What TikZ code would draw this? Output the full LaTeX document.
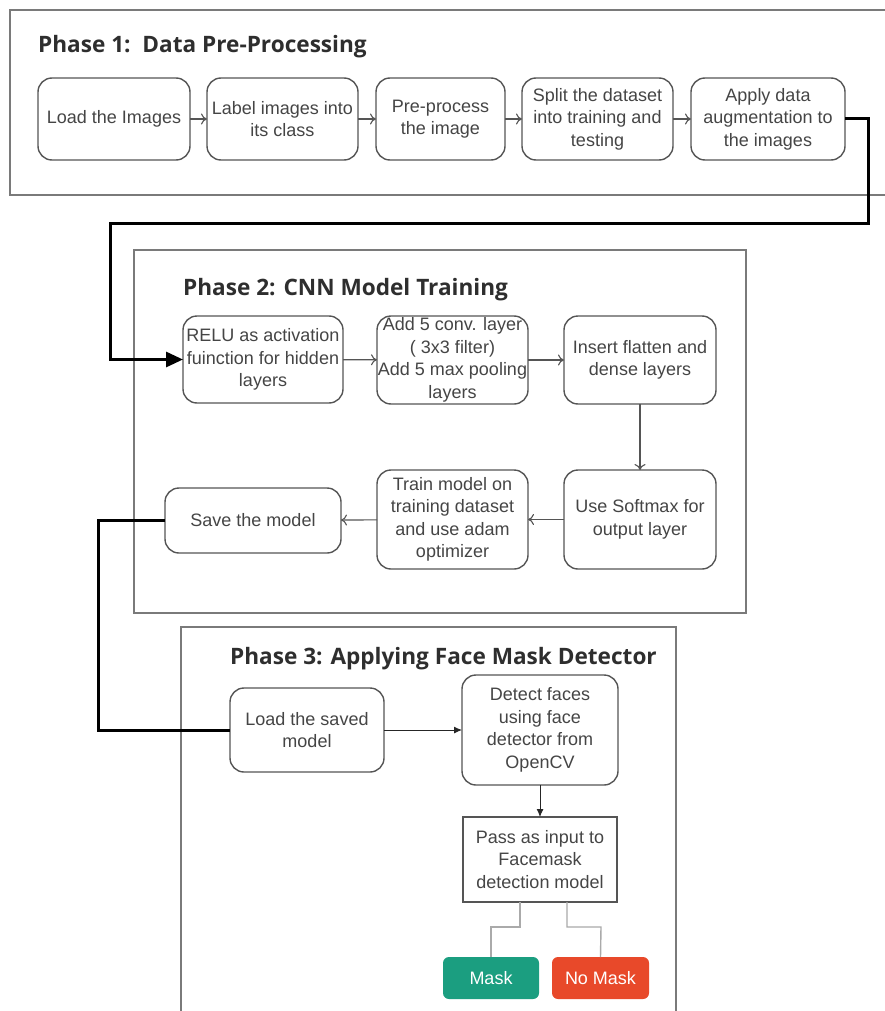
\documentclass[tikz,border=0pt]{standalone}
\usepackage{fontspec}
\setmainfont{Liberation Sans}
\newfontfamily\titlefont{Open Sans}
\usetikzlibrary{arrows.meta}
\definecolor{boxgray}{HTML}{555555}
\definecolor{txtgray}{HTML}{454545}
\definecolor{framegray}{HTML}{7A7A7A}
\definecolor{titlegray}{HTML}{2E2E2E}
\definecolor{maskgreen}{HTML}{1B9E80}
\definecolor{nomaskred}{HTML}{E8492A}
\definecolor{linkgray}{HTML}{AAAAAA}
\begin{document}
\begin{tikzpicture}[x=1pt,y=-1pt,
  box/.style={draw=boxgray, line width=1.4pt, rounded corners=14pt, align=center,
    text=txtgray, font=\fontsize{18}{22.5}\selectfont, inner sep=0pt, outer sep=0pt},
  sqbox/.style={box, rounded corners=0pt},
  frame/.style={draw=framegray, line width=1.6pt},
  ptitle/.style={anchor=base west, text=titlegray, font=\titlefont\bfseries\fontsize{22.6}{26}\selectfont, inner sep=0pt},
  openarrow/.style={draw=boxgray, line width=1.1pt, -{To[length=6pt,width=11pt]}},
  fillarrow/.style={draw=black!85, line width=0.9pt, -{Latex[length=8pt,width=7pt]}},
  thick link/.style={draw=black, line width=3pt},
  branch/.style={draw=linkgray, line width=1.4pt},
  result/.style={rounded corners=6pt, inner sep=0pt, outer sep=0pt, text=white,
    font=\fontsize{18}{20}\selectfont, minimum width=96pt, minimum height=42pt}
]
\useasboundingbox (0,0) rectangle (885,1011);
\fill[white] (0,0) rectangle (885,1011);

% frames
\draw[frame] (895,10) -- (10,10) -- (10,195) -- (895,195);
\draw[frame] (134,250) rectangle (746,613);
\draw[frame] (181,1020) -- (181,627) -- (676,627) -- (676,1020);

% titles
\node[ptitle] (t1) at (38,53) {Phase 1:\ \ Data Pre-Processing};
\node[ptitle] (t2) at (183,295) {Phase 2: CNN Model Training};
\node[ptitle] (t3) at (230,664) {Phase 3: Applying Face Mask Detector};

% phase 1
\node[box, minimum width=152pt, minimum height=82pt] (b1) at (114,119) {Load the Images};
\node[box, minimum width=151pt, minimum height=82pt] (b2) at (282.5,119) {Label images into\\its class};
\node[box, minimum width=129pt, minimum height=82pt] (b3) at (440.5,119) {Pre-process\\the image};
\node[box, minimum width=151pt, minimum height=82pt] (b4) at (597.5,119) {Split the dataset\\into training and\\testing};
\node[box, minimum width=154pt, minimum height=82pt] (b5) at (768,119) {Apply data\\augmentation to\\the images};
\draw[openarrow] (b1) -- (b2);
\draw[openarrow] (b2) -- (b3);
\draw[openarrow] (b3) -- (b4);
\draw[openarrow] (b4) -- (b5);

% phase 2
\node[box, minimum width=160pt, minimum height=87pt] (r) at (263,359.5) {RELU as activation\\fuinction for hidden\\layers};
\node[box, minimum width=151pt, minimum height=88pt] (c) at (452.5,360) {Add 5 conv. layer\\( 3x3 filter)\\Add 5 max pooling\\layers};
\node[box, minimum width=152pt, minimum height=88pt] (ins) at (640,360) {Insert flatten and\\dense layers};
\node[box, minimum width=152pt, minimum height=99pt] (s) at (640,519.5) {Use Softmax for\\output layer};
\node[box, minimum width=151pt, minimum height=99pt] (tr) at (452.5,519.5) {Train model on\\training dataset\\and use adam\\optimizer};
\node[box, minimum width=176pt, minimum height=65pt] (sv) at (253,520.5) {Save the model};
\draw[openarrow] (r) -- (c);
\draw[openarrow] (c) -- (ins);
\draw[openarrow] (ins) -- (s);
\draw[openarrow] (s) -- (tr);
\draw[openarrow] (tr) -- (sv);

% phase 3
\node[box, minimum width=154pt, minimum height=84pt] (l) at (307,730) {Load the saved\\model};
\node[box, minimum width=156pt, minimum height=110pt] (d) at (540,730) {Detect faces\\using face\\detector from\\OpenCV};
\node[sqbox, minimum width=154pt, minimum height=85pt] (p) at (540,859.5) {Pass as input to\\Facemask\\detection model};
\node[result, fill=maskgreen] (m) at (491,978) {Mask};
\node[result, fill=nomaskred, minimum width=97pt] (nm) at (600.5,978) {No Mask};
\draw[fillarrow] (l) -- (d);
\draw[fillarrow] (d) -- (p);
\draw[branch] (p.south -| 520,0) |- (491,927) -- (m.north);
\draw[branch] (p.south -| 567,0) |- (601,927) -- (nm.north);

% thick links between phases
\draw[thick link, -{Triangle[length=17pt,width=15pt]}] (b5.east) -- (868,119) -- (868,223) -- (110,223) -- (110,359.5) -- (r.west);
\draw[thick link] (sv.west) -- (98,520.5) -- (98,730) -- (l.west);
\end{tikzpicture}
\end{document}
